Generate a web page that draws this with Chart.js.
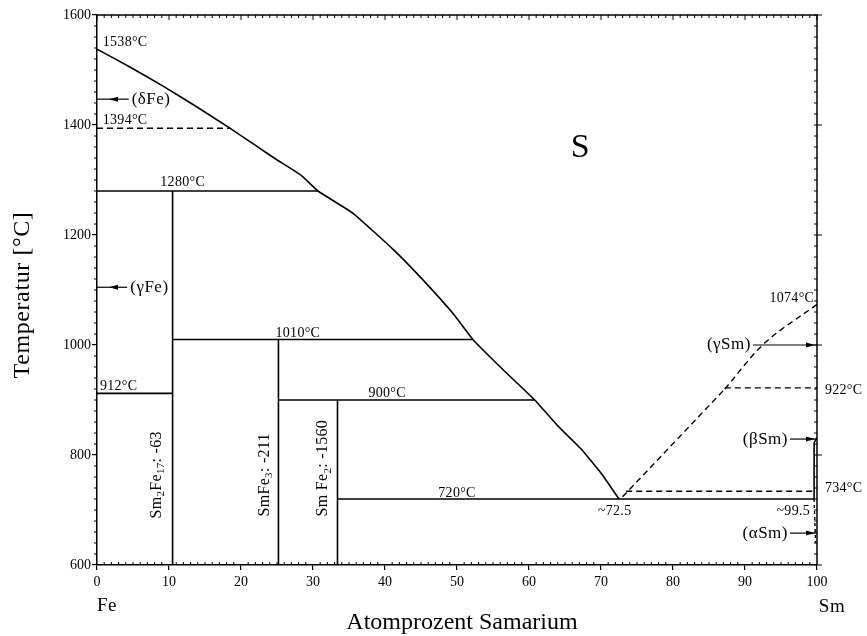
<!DOCTYPE html>
<html><head><meta charset="utf-8">
<script src="https://cdn.jsdelivr.net/npm/chart.js@4/dist/chart.umd.min.js"></script>
<style>html,body{margin:0;padding:0;background:#fff}canvas{display:block}</style>
</head><body>
<canvas id="c" width="867" height="636" style="width:867px;height:636px"></canvas>
<script>
// ---------- data (x = at.% Sm, T = °C) ----------
const xTicks = [0,10,20,30,40,50,60,70,80,90,100];
const yTicks = [600,800,1000,1200,1400,1600];

const liquidusFeX = [0, 4.5, 9, 13.5, 18.5, 24.6, 28.4, 30.7, 35.6, 41.2, 45.3, 49.4, 52.2, 56.4, 60.8, 64, 67.3, 70.3, 72.5];
const liquidusFeT = [1538, 1506, 1472, 1436, 1394, 1340, 1308, 1280, 1239, 1173, 1118, 1058, 1010, 955, 900, 853, 810, 762, 720];

const liquidusSmLowX = [73, 80.6, 87.2];
const liquidusSmLowT = [724, 829, 920];
const liquidusSmHighX = [87.2, 92.3, 100];
const liquidusSmHighT = [920, 998, 1074];

const solidIsoT    = [1280, 1010, 912, 900, 720];
const solidIsoFrom = [0, 10.5, 0, 25.2, 33.4];
const solidIsoTo   = [30.7, 52.2, 10.5, 60.8, 99.6];

const dashedIsoT    = [1394, 922, 734];
const dashedIsoFrom = [0, 87.2, 73.5];
const dashedIsoTo   = [18.5, 100, 99.6];

const compoundX     = [10.5, 25.2, 33.4];
const compoundTop   = [1280, 1010, 900];
const compoundNames = ['Sm_{2}Fe_{17}: -63', 'SmFe_{3}: -211', 'Sm Fe_{2}: -1560'];
const compoundLabelX = [8.3, 23.3, 31.4];
const compoundLabelT = [764, 764, 776];

const betaSolvusX = [99.6, 99.6, 100];
const betaSolvusT = [720, 822, 832];
const alphaSolvusX = [99.6, 99.8];
const alphaSolvusT = [720, 640];

const phaseNames   = ['(δFe)', '(γFe)', '(γSm)', '(βSm)', '(αSm)'];
const phaseT       = [1447, 1105, 1000, 829, 658];
const phaseTextX   = [4.4, 4.2, 91.1, 96.25, 96.25];
const phaseTargetX = [0, 0, 100, 100, 100];

const tempLabels = ['1538°C','1394°C','1280°C','1010°C','912°C','900°C','720°C','~72.5','~99.5','734°C','922°C','1074°C'];
const tempLabelX = [0.8, 0.8, 11.9, 27.9, 0.4, 40.3, 50, 71.9, 96.7, 101.1, 101.1, 96.5];
const tempLabelT = [1551, 1409, 1295, 1022, 924, 913, 731, 698, 698, 740, 918, 1084];
const tempLabelAlign = ['left','left','center','center','left','center','center','center','center','left','left','center'];

const regionLabel = 'S';
const regionLabelX = 67.1;
const regionLabelT = 1358;

const xTitle = 'Atomprozent Samarium';
const yTitle = 'Temperatur [°C]';
const leftElement = 'Fe';
const rightElement = 'Sm';

// ---------- build datasets ----------
const SERIF = '"Liberation Serif", "Times New Roman", serif';
const pts = (xs, ys) => xs.map((x, i) => ({x, y: ys[i]}));
const datasets = [];
const solidStyle = {borderColor:'#000', borderWidth:1.6, showLine:true, pointRadius:0, fill:false, tension:0};
const dashStyle = Object.assign({}, solidStyle, {borderDash:[6,4], borderWidth:1.4});
const smooth = {cubicInterpolationMode:'monotone'};

datasets.push(Object.assign({data: pts(liquidusFeX, liquidusFeT)}, solidStyle, {borderJoinStyle:'round', tension:0.12}));
datasets.push(Object.assign({data: pts(liquidusSmLowX, liquidusSmLowT)}, dashStyle));
datasets.push(Object.assign({data: pts(liquidusSmHighX, liquidusSmHighT)}, dashStyle, smooth));
solidIsoT.forEach((t, i) => datasets.push(Object.assign({data:[{x:solidIsoFrom[i], y:t},{x:solidIsoTo[i], y:t}]}, solidStyle)));
dashedIsoT.forEach((t, i) => datasets.push(Object.assign({data:[{x:dashedIsoFrom[i], y:t},{x:dashedIsoTo[i], y:t}]}, dashStyle)));
compoundX.forEach((x, i) => datasets.push(Object.assign({data:[{x, y:600},{x, y:compoundTop[i]}]}, solidStyle)));
datasets.push(Object.assign({data: pts(betaSolvusX, betaSolvusT)}, solidStyle));
datasets.push(Object.assign({data: pts(alphaSolvusX, alphaSolvusT)}, dashStyle, {borderDash:[3,3]}));
phaseT.forEach((t, i) => datasets.push(Object.assign({data:[{x:phaseTextX[i], y:t},{x:phaseTargetX[i], y:t}]}, solidStyle, {borderWidth:1.2})));

// ---------- helpers ----------
function drawRich(ctx, str, size) {
  const parts = [];
  const re = /_\{([^}]*)\}/g;
  let last = 0, m;
  while ((m = re.exec(str))) {
    if (m.index > last) parts.push({t: str.slice(last, m.index), sub:false});
    parts.push({t: m[1], sub:true});
    last = re.lastIndex;
  }
  if (last < str.length) parts.push({t: str.slice(last), sub:false});
  const subSize = Math.round(size * 0.68);
  let w = 0;
  parts.forEach(p => { ctx.font = (p.sub ? subSize : size) + 'px ' + SERIF; p.w = ctx.measureText(p.t).width; w += p.w; });
  let x = -w / 2;
  ctx.textAlign = 'left'; ctx.textBaseline = 'middle';
  parts.forEach(p => {
    ctx.font = (p.sub ? subSize : size) + 'px ' + SERIF;
    ctx.fillText(p.t, x, p.sub ? size * 0.3 : 0);
    x += p.w;
  });
}

const decor = {
  id: 'decor',
  afterDraw(chart) {
    const ctx = chart.ctx, xs = chart.scales.x, ys = chart.scales.y, a = chart.chartArea;
    const X = v => xs.getPixelForValue(v), Y = v => ys.getPixelForValue(v);
    ctx.save();
    ctx.strokeStyle = '#000'; ctx.fillStyle = '#000';
    ctx.lineWidth = 1.5;
    ctx.beginPath();
    ctx.moveTo(a.left, a.top); ctx.lineTo(a.right, a.top); ctx.lineTo(a.right, a.bottom);
    ctx.stroke();
    ctx.lineWidth = 1;
    ctx.beginPath();
    for (let v = 0; v <= 100; v++) {
      const px = X(v);
      const major = v % 10 === 0;
      if (!major) { ctx.moveTo(px, a.bottom); ctx.lineTo(px, a.bottom - 3); }
      ctx.moveTo(px, a.top); ctx.lineTo(px, a.top + (major ? 5 : 3));
    }
    for (let t = 600; t <= 1600; t += 20) {
      const py = Y(t);
      const major = t % 200 === 0;
      if (!major) { ctx.moveTo(a.left, py); ctx.lineTo(a.left - 3, py); }
      ctx.moveTo(a.right, py); ctx.lineTo(a.right - 3, py);
      if (major) { ctx.moveTo(a.right, py); ctx.lineTo(a.right + 5, py); }
    }
    ctx.stroke();

    phaseT.forEach((t, i) => {
      const py = Y(t);
      const dir = phaseTargetX[i] < 50 ? -1 : 1;
      const tip = dir < 0 ? X(phaseTargetX[i]) + 12 : X(phaseTargetX[i]) - 2;
      ctx.beginPath();
      ctx.moveTo(tip, py);
      ctx.lineTo(tip - dir * 9, py - 2.5);
      ctx.lineTo(tip - dir * 9, py + 2.5);
      ctx.closePath();
      ctx.fill();
    });

    ctx.font = '17px ' + SERIF;
    ctx.letterSpacing = '0.5px';
    ctx.textBaseline = 'middle';
    phaseNames.forEach((s, i) => {
      const left = phaseTargetX[i] < 50;
      ctx.textAlign = left ? 'left' : 'right';
      ctx.fillText(s, X(phaseTextX[i]) + (left ? 3 : -2), Y(phaseT[i]));
    });

    ctx.font = '14px ' + SERIF;
    ctx.letterSpacing = '0.3px';
    tempLabels.forEach((s, i) => {
      ctx.textAlign = tempLabelAlign[i];
      ctx.fillText(s, X(tempLabelX[i]), Y(tempLabelT[i]));
    });
    ctx.letterSpacing = '0px';

    ctx.font = '34px ' + SERIF;
    ctx.textAlign = 'center';
    ctx.fillText(regionLabel, X(regionLabelX), Y(regionLabelT));

    compoundNames.forEach((s, i) => {
      ctx.save();
      ctx.translate(X(compoundLabelX[i]), Y(compoundLabelT[i]));
      ctx.rotate(-Math.PI / 2);
      ctx.letterSpacing = '0.3px';
      drawRich(ctx, s, 16);
      ctx.restore();
    });

    ctx.font = '24px ' + SERIF;
    ctx.textAlign = 'center';
    ctx.textBaseline = 'middle';
    ctx.fillText(xTitle, 462, 623);
    ctx.save();
    ctx.translate(23, 295);
    ctx.rotate(-Math.PI / 2);
    ctx.letterSpacing = '0.6px';
    ctx.fillText(yTitle, 0, 0);
    ctx.restore();
    ctx.font = '19px ' + SERIF;
    ctx.letterSpacing = '0.5px';
    ctx.fillText(leftElement, X(0) + 10, 606);
    ctx.fillText(rightElement, X(100) + 15, 607);
    ctx.restore();
  }
};

new Chart(document.getElementById('c'), {
  type: 'scatter',
  data: { datasets },
  options: {
    responsive: false,
    animation: false,
    events: [],
    layout: { padding: { top: 15, right: 50, left: 0, bottom: 0 } },
    plugins: { legend: { display: false }, tooltip: { enabled: false } },
    scales: {
      x: {
        type: 'linear', min: 0, max: 100,
        afterFit(s) { s.height = 71; },
        afterBuildTicks(s) { s.ticks = xTicks.map(v => ({value: v})); },
        ticks: { color: '#000', font: { family: SERIF, size: 14 }, padding: 4, maxRotation: 0, callback: v => String(v) },
        grid: { drawOnChartArea: false, color: '#000', lineWidth: 1.2, tickLength: 5 },
        border: { color: '#000', width: 1.5 }
      },
      y: {
        type: 'linear', min: 600, max: 1600,
        afterFit(s) { s.width = 97; },
        afterBuildTicks(s) { s.ticks = yTicks.map(v => ({value: v})); },
        ticks: { color: '#000', font: { family: SERIF, size: 14 }, padding: 1, callback: v => String(v) },
        grid: { drawOnChartArea: false, color: '#000', lineWidth: 1.2, tickLength: 5 },
        border: { color: '#000', width: 1.5 }
      }
    }
  },
  plugins: [decor]
});
</script>
</body></html>
